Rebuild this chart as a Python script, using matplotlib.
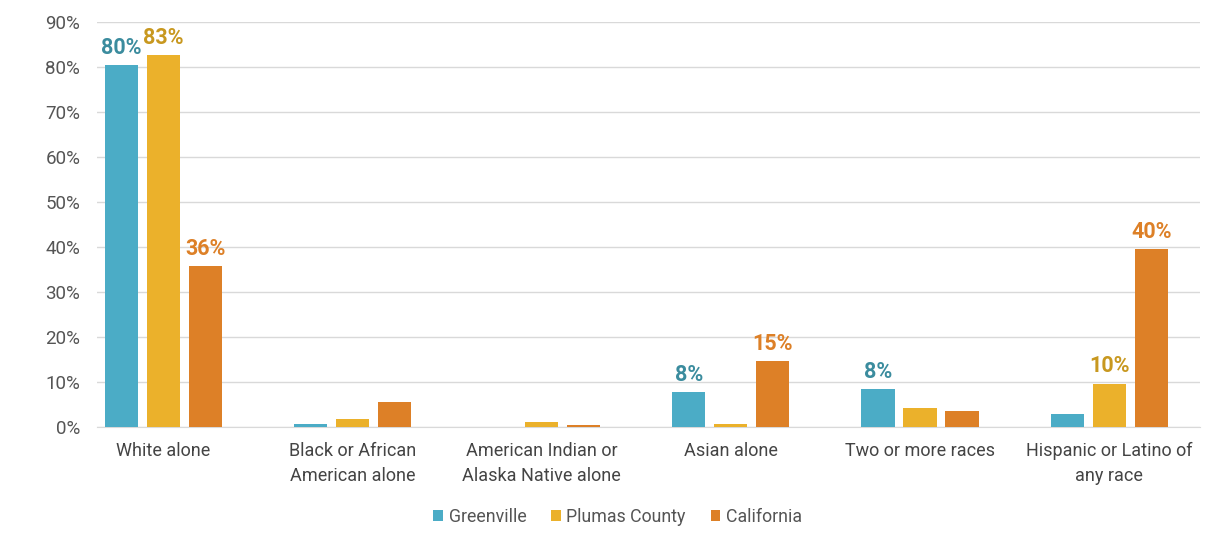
import matplotlib
matplotlib.use("Agg")
import matplotlib.pyplot as plt
import numpy as np

# Data (percent)
categories = ["White alone", "Black or African\nAmerican alone", "American Indian or\nAlaska Native alone",
              "Asian alone", "Two or more races", "Hispanic or Latino of\nany race"]
greenville = [80.4, 0.7, 0.0, 7.8, 8.4, 2.9]
plumas = [82.7, 1.8, 1.1, 0.7, 4.2, 9.6]
california = [35.8, 5.6, 0.4, 14.7, 3.6, 39.6]
series_names = ["Greenville", "Plumas County", "California"]

# labels shown in the chart: (series index, category index, text)
shown_labels = [(0, 0, "80%"), (1, 0, "83%"), (2, 0, "36%"),
                (0, 3, "8%"), (2, 3, "15%"),
                (0, 4, "8%"),
                (1, 5, "10%"), (2, 5, "40%")]

bar_colors = ["#4BACC6", "#EBB12B", "#DD8027"]
label_colors = ["#3B8C9E", "#C8981F", "#DD8027"]

plt.rcParams['font.family'] = ['Roboto', 'DejaVu Sans']

fig = plt.figure(figsize=(12.25, 5.45), dpi=100)
ax = fig.add_axes([97 / 1225, 1 - 427 / 545, 1103 / 1225, 405 / 545])

x = np.arange(len(categories))
pitch = 0.222
width = 0.175
all_series = [greenville, plumas, california]
for i, vals in enumerate(all_series):
    ax.bar(x + (i - 1) * pitch, vals, width, color=bar_colors[i], label=series_names[i], zorder=3)

for s, c, txt in shown_labels:
    ax.text(x[c] + (s - 1) * pitch, all_series[s][c] + 1.4, txt, ha="center", va="bottom",
            fontsize=15.5, fontweight="bold", color=label_colors[s])

ax.set_xlim(-0.35, 5.48)
ax.set_ylim(0, 90)
ax.set_yticks(np.arange(0, 91, 10))
ax.set_yticklabels([f"{v}%" for v in range(0, 91, 10)], fontsize=13.5, color="#555555")
ax.set_xticks(x)
ax.set_xticklabels(categories, fontsize=13, color="#444444", linespacing=1.45)
ax.tick_params(axis="y", length=0, pad=12)
ax.tick_params(axis="x", length=0, pad=11)
ax.yaxis.grid(True, color="#D9D9D9", linewidth=1, zorder=0)
for side in ["top", "right", "left"]:
    ax.spines[side].set_visible(False)
ax.spines["bottom"].set_color("#D9D9D9")

ax.legend(loc="upper center", bbox_to_anchor=(0.472, -0.16), ncol=3, frameon=False,
          fontsize=12.8, handlelength=0.55, handleheight=0.55, handletextpad=0.3, columnspacing=1.4,
          labelcolor="#555555")

fig.savefig("out.png", dpi=100)
